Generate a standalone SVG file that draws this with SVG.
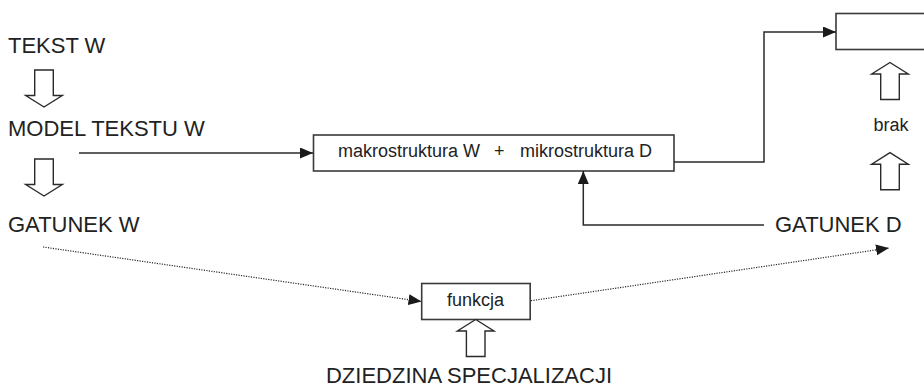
<svg xmlns="http://www.w3.org/2000/svg" width="924" height="389" viewBox="0 0 924 389">
  <style>
    .big { font-family: "Liberation Sans", Arial, sans-serif; font-size: 22px; fill: #222; }
    .small { font-family: "Liberation Sans", Arial, sans-serif; font-size: 18px; fill: #222; }
    .box { fill: #fff; stroke: #3a3a3a; stroke-width: 1.6; }
    .conn { fill: none; stroke: #2a2a2a; stroke-width: 1.5; }
    .dot { fill: none; stroke: #2a2a2a; stroke-width: 1.2; stroke-dasharray: 1.2 1.3; }
    .hollow { fill: #fff; stroke: #2a2a2a; stroke-width: 1.4; stroke-linejoin: miter; }
  </style>
  <defs>
    <marker id="head" markerUnits="userSpaceOnUse" markerWidth="13" markerHeight="11" refX="13" refY="5.5" orient="auto">
      <path d="M0,0 L13,5.5 L0,11 Z" fill="#1a1a1a"/>
    </marker>
    <!-- open block arrow, tip at origin, pointing up -->
    <path id="blockArrow" class="hollow" d="M0,0 L18.3,11.5 H9.3 V37 H-9.3 V11.5 H-18.3 Z"/>
  </defs>

  <!-- left column -->
  <g id="tekst-w">
    <text class="big" x="8" y="53">TEKST W</text>
  </g>
  <g id="model-tekstu-w">
    <text class="big" x="8" y="136">MODEL TEKSTU W</text>
  </g>
  <g id="gatunek-w">
    <text class="big" x="8" y="232">GATUNEK W</text>
  </g>

  <!-- central structure box -->
  <g id="struktura">
    <rect class="box" x="313.5" y="135" width="360.5" height="36"/>
    <text class="small" y="157"><tspan x="338">makrostruktura W</tspan><tspan x="494">+</tspan><tspan x="520">mikrostruktura D</tspan></text>
  </g>

  <!-- target box at top right -->
  <g id="cel">
    <rect class="box" x="836" y="13.5" width="100" height="36"/>
  </g>

  <g id="brak">
    <text class="small" x="891" y="130.5" text-anchor="middle">brak</text>
  </g>

  <g id="gatunek-d">
    <text class="big" x="775" y="232">GATUNEK D</text>
  </g>

  <g id="funkcja">
    <rect class="box" x="421.7" y="283.5" width="108.5" height="36"/>
    <text class="small" x="475.5" y="306" text-anchor="middle">funkcja</text>
  </g>

  <g id="dziedzina">
    <text class="big" x="469" y="383" text-anchor="middle">DZIEDZINA SPECJALIZACJI</text>
  </g>

  <!-- block arrows -->
  <g id="block-arrows">
    <use href="#blockArrow" transform="translate(44,107) rotate(180)"/>
    <use href="#blockArrow" transform="translate(44,196) rotate(180)"/>
    <use href="#blockArrow" transform="translate(890,62.5)"/>
    <use href="#blockArrow" transform="translate(890,152.7)"/>
    <use href="#blockArrow" transform="translate(475.7,319.5)"/>
  </g>

  <!-- connectors -->
  <g id="connectors">
    <path class="conn" d="M79,153 H313" marker-end="url(#head)"/>
    <path class="conn" d="M674,162 H764 V32 H836" marker-end="url(#head)"/>
    <path class="conn" d="M764,225 H583.3 V171" marker-end="url(#head)"/>
    <path class="dot" d="M43,247 L421.5,301.5" marker-end="url(#head)"/>
    <path class="dot" d="M531,300.7 L889,248" marker-end="url(#head)"/>
  </g>
</svg>
